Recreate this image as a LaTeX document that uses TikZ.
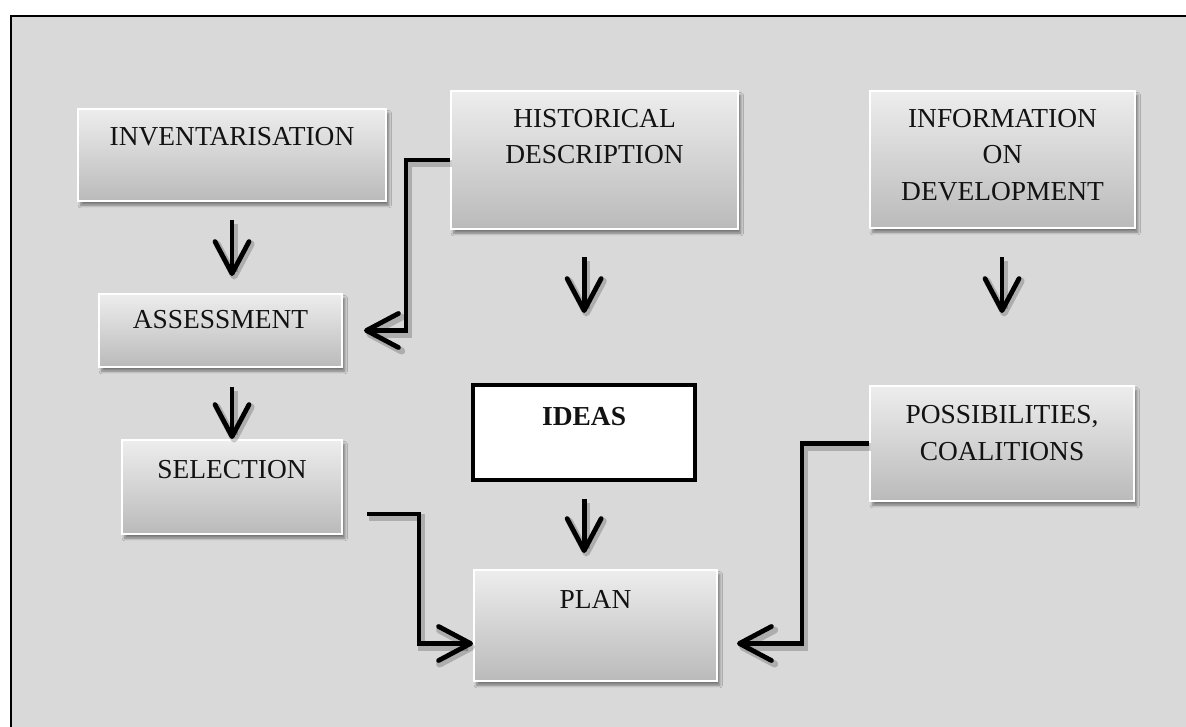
\documentclass[tikz,border=0pt]{standalone}
\usepackage{fontspec}
\setmainfont{Liberation Serif}
\usetikzlibrary{arrows.meta,shadows.blur}

\definecolor{panelgray}{HTML}{D9D9D9}
\definecolor{inkblack}{HTML}{121212}

\tikzset{
	box/.style={draw=white, line width=1.4pt, top color=black!7, bottom color=black!27,
		blur shadow={shadow xshift=2pt, shadow yshift=-3pt, shadow blur steps=6, shadow opacity=45},
		anchor=north west, inner sep=0pt},
	ideabox/.style={draw=black, line width=3pt, fill=white, anchor=north west, inner sep=0pt},
	caption/.style={text=inkblack, font=\fontsize{19.5}{26}\selectfont, align=center, anchor=north, inner sep=0pt},
	flow/.style={draw=black, line width=3.4pt,
		-{Straight Barb[length=.8cm, width=.85cm, round]},
		preaction={draw=black, opacity=.2, line width=5pt,
			transform canvas={shift={(1.5pt,-2.5pt)}}}},
}

\begin{document}
\begin{tikzpicture}[x=0.025cm, y=-0.025cm]
	\useasboundingbox (0,0) rectangle (1186,727);
	\fill[white] (0,0) rectangle (1186,727);
	% panel runs off the page to the right and bottom
	\fill[panelgray] (11,16) rectangle (1186,727);
	\draw[line width=1.4pt] (11,727) -- (11,16) -- (1186,16);
	
	% boxes, top row
	\node[box, minimum width=7.7cm, minimum height=2.3cm] (inv) at (77,108) {};
	\node[caption] (invtext) at ([yshift=-0.475cm]inv.north) {INVENTARISATION};
	\node[box, minimum width=7.175cm, minimum height=3.45cm] (hist) at (450,90) {};
	\node[caption] (histtext) at ([yshift=-0.475cm]hist.north) {HISTORICAL\\DESCRIPTION};
	\node[box, minimum width=6.625cm, minimum height=3.425cm] (info) at (869,90) {};
	\node[caption] (infotext) at ([yshift=-0.475cm]info.north) {INFORMATION\\ON\\DEVELOPMENT};
	
	% boxes, lower rows
	\node[box, minimum width=6.075cm, minimum height=1.825cm] (ass) at (98,293) {};
	\node[caption] (asstext) at ([yshift=-0.425cm]ass.north) {ASSESSMENT};
	\node[box, minimum width=5.5cm, minimum height=2.35cm] (sel) at (121,439) {};
	\node[caption] (seltext) at ([yshift=-0.525cm]sel.north) {SELECTION};
	\node[ideabox, minimum width=5.55cm, minimum height=2.375cm] (ideas) at (471,383) {};
	\node[caption, font=\fontsize{19.5}{26}\selectfont\bfseries] (ideastext) at ([yshift=-0.6cm]ideas.north) {IDEAS};
	\node[box, minimum width=6.6cm, minimum height=2.875cm] (poss) at (869,385) {};
	\node[caption] (posstext) at ([yshift=-0.5cm]poss.north) {POSSIBILITIES,\\COALITIONS};
	\node[box, minimum width=6.075cm, minimum height=2.775cm] (plan) at (473,569) {};
	\node[caption] (plantext) at ([yshift=-0.525cm]plan.north) {PLAN};
	
	% straight arrows
	\draw[flow, shorten <=0.45cm, shorten >=0.425cm] (inv.south) -- (inv.south |- ass.north);
	\draw[flow, shorten <=0.475cm] (ass.south -| sel.north) -- (sel.north);
	\draw[flow, shorten <=0.675cm, shorten >=1.75cm] (ideas.north |- hist.south) -- (ideas.north);
	\draw[flow, shorten <=0.7cm, shorten >=1.8cm] (poss.north |- info.south) -- (poss.north);
	\draw[flow, shorten <=0.425cm, shorten >=0.4cm] (ideas.south) -- (ideas.south |- plan.north);
	
	% elbow arrows
	\draw[flow, shorten >=0.525cm] (hist.west) -- ++(-44,0) |- (ass.east);
	\draw[flow] ([shift={(24,27)}]sel.east) -- ++(52,0) |- ([yshift=-0.45cm]plan.west);
	\draw[flow, shorten >=0.475cm] (poss.west) -- ++(-67,0) |- ([yshift=-0.45cm]plan.east);
\end{tikzpicture}
\end{document}
